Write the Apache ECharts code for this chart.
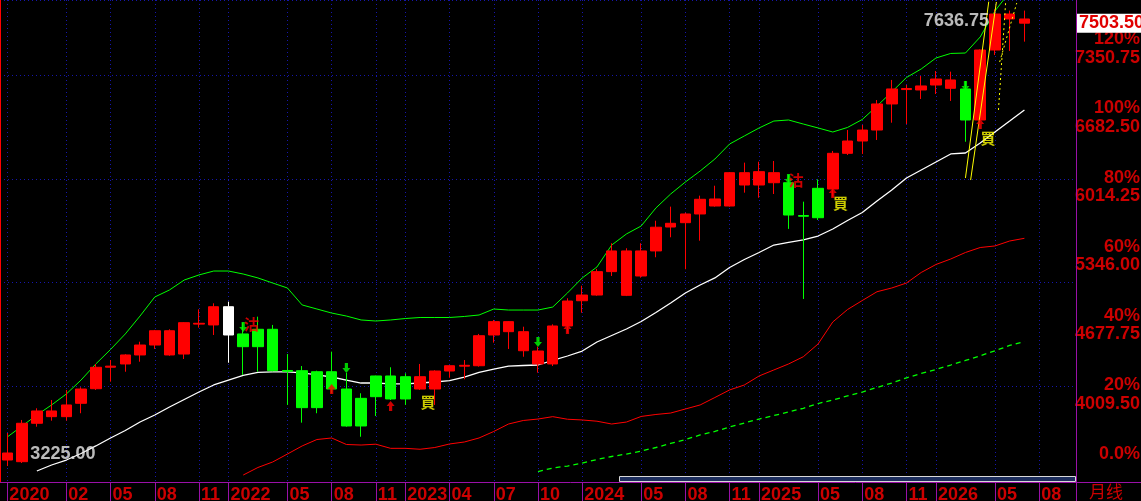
<!DOCTYPE html>
<html>
<head>
<meta charset="utf-8">
<script src="https://cdn.jsdelivr.net/npm/echarts@6/dist/echarts.min.js"></script>
<style>
html, body { margin: 0; padding: 0; background: #000; }
#chart { width: 1141px; height: 501px; }
</style>
</head>
<body>
<div id="chart"></div>
<script>
// Monthly bars, 2020-10 .. 2026-10 (last three slots empty)
const months = [];
for (let i = 0; i < 73; i++) {
    const m = 9 + i;
    months.push((2020 + Math.floor(m / 12)) + "-" + String(m % 12 + 1).padStart(2, "0"));
}

const tickMonths = ["2020-10", "2021-02", "2021-05", "2021-08", "2021-11", "2022-01", "2022-05", "2022-08",
    "2022-11", "2023-01", "2023-04", "2023-07", "2023-10", "2024-01", "2024-05", "2024-08", "2024-11",
    "2025-01", "2025-05", "2025-08", "2025-11", "2026-01", "2026-05", "2026-08"];

const opens = [3283, 3267, 3638, 3702, 3702, 3831, 3972, 4180, 4211, 4298, 4394, 4298, 4307, 4596, 4588, 4764,
    4501, 4546, 4546, 4148, 4146, 4136, 4136, 3969, 3879, 4095, 4095, 4088, 3969, 3969, 4143, 4190, 4194, 4491,
    4523, 4339, 4211, 4211, 4578, 4822, 4877, 5103, 4874, 5061, 5303, 5534, 5576, 5660, 5737, 5737, 5940, 5940,
    5962, 5962, 5645, 5908, 5901, 6246, 6365, 6471, 6723, 6862, 6858, 6906, 6874, 6868, 6568, 7244, 7544, 7544];
const closes = [3351, 3638, 3757, 3757, 3815, 3969, 4179, 4190, 4298, 4394, 4532, 4532, 4610, 4604, 4764, 4491,
    4378, 4378, 4146, 4140, 3789, 3789, 3969, 3612, 3612, 3895, 3873, 3873, 4088, 4143, 4194, 4198, 4484, 4620,
    4620, 4523, 4336, 4578, 4819, 4877, 5103, 5303, 5303, 5303, 5532, 5570, 5660, 5802, 5805, 6059, 6059, 6069,
    6059, 5650, 5638, 5624, 6246, 6365, 6471, 6723, 6868, 6872, 6897, 6964, 6955, 6568, 7244, 7592, 7592, 7503.5];
const lows = [3225, 3254, 3605, 3663, 3663, 3735, 3960, 4040, 4136, 4233, 4356, 4290, 4259, 4562, 4491, 4223,
    4105, 4136, 4140, 3815, 3644, 3735, 3928, 3605, 3508, 3708, 3863, 3815, 3960, 3815, 4078, 4063, 4185, 4417,
    4356, 4281, 4127, 4191, 4513, 4706, 4870, 5061, 4867, 5045, 5242, 5435, 5126, 5402, 5731, 5731, 5866, 5817,
    5853, 5516, 4839, 5602, 5827, 6230, 6240, 6375, 6542, 6529, 6771, 6819, 6752, 6358, 6520, 7196, 7235, 7325];
const highs = [3544, 3670, 3783, 3863, 3960, 3986, 4211, 4249, 4305, 4426, 4540, 4546, 4615, 4739, 4797, 4813,
    4610, 4668, 4588, 4307, 4191, 4146, 4330, 4124, 3928, 4098, 4179, 4121, 4211, 4150, 4200, 4249, 4501, 4636,
    4625, 4571, 4378, 4594, 4846, 4967, 5129, 5377, 5329, 5377, 5595, 5731, 5673, 5837, 5933, 6065, 6156, 6165,
    6172, 6037, 5779, 5995, 6269, 6471, 6520, 6761, 6955, 6906, 6993, 7041, 7035, 6945, 7250, 7636.75, 7625, 7625];

// Bollinger bands and long MA
const bollUpper = [3506, 3612, 3718, 3815, 3921, 4056, 4211, 4351, 4501, 4674, 4858, 4926, 5022, 5071, 5109, 5109,
    5080, 5042, 4993, 4945, 4781, 4742, 4703, 4674, 4636, 4626, 4636, 4650, 4660, 4660, 4660, 4670, 4684, 4742,
    4732, 4732, 4732, 4761, 4897, 5042, 5148, 5360, 5467, 5544, 5718, 5853, 5969, 6075, 6191, 6336, 6414, 6491,
    6558, 6568, 6529, 6491, 6452, 6496, 6573, 6703, 6839, 6979, 7061, 7167, 7211, 7215, 7370, 7621, 7805, 7969];
const bollMid = [null, null, 3177, 3235, 3283, 3346, 3419, 3496, 3568, 3650, 3718, 3795, 3868, 3940, 4008, 4056,
    4100, 4129, 4134, 4134, 4124, 4105, 4085, 4056, 4027, 4027, 4018, 4018, 4027, 4037, 4051, 4085, 4129, 4162,
    4191, 4196, 4201, 4245, 4288, 4336, 4423, 4486, 4549, 4621, 4708, 4800, 4897, 4974, 5042, 5143, 5220, 5288,
    5360, 5385, 5409, 5447, 5515, 5597, 5674, 5786, 5892, 6008, 6085, 6162, 6240, 6249, 6346, 6452, 6558, 6665];
const bollLower = [null, null, null, null, null, null, null, null, null, null, null, null, null, null, null, null,
    3138, 3211, 3264, 3341, 3419, 3481, 3496, 3433, 3428, 3436, 3396, 3396, 3387, 3404, 3438, 3457, 3496, 3559,
    3631, 3665, 3679, 3702, 3677, 3670, 3658, 3631, 3650, 3704, 3723, 3737, 3776, 3815, 3887, 3960, 4008, 4095,
    4153, 4211, 4281, 4404, 4617, 4737, 4824, 4909, 4945, 4993, 5095, 5172, 5225, 5288, 5336, 5351, 5399, 5425];
const maLong = [null, null, null, null, null, null, null, null, null, null, null, null, null, null, null, null,
    null, null, null, null, null, null, null, null, null, null, null, null, null, null, null, null, null, null,
    null, null, 3172, 3206, 3225, 3254, 3288, 3317, 3341, 3370, 3404, 3443, 3481, 3525, 3559, 3602, 3641, 3679,
    3713, 3747, 3783, 3829, 3863, 3902, 3940, 3984, 4027, 4077, 4119, 4158, 4201, 4245, 4290, 4338, 4390, 4428];

// Yellow trend lines [bar position, price]
const trendSolidA = [[65.0, 6008], [66.58, 7711]];
const trendSolidB = [[65.35, 5988], [67.1, 7708]];
const trendDotC = [[67.24, 6665], [67.73, 7711]];
const trendDotD = [[67.32, 7128], [68.48, 7698]];

// Signals [bar position, price]
const sellArrows = [[16, 4568], [23, 4172], [36, 4423], [53, 5998], [65, 6897]];
const buyArrows = [[22, 3969], [26, 3805], [38, 4549], [56, 5863], [66, 6529]];
const buyTexts = [[28.54, 3844], [56.52, 5761], [66.53, 6389]];
const sellTexts = [[16.56, 4592], [53.5, 5984]];

const basePrice = 3341.25;
const pctLevels = [0, 20, 40, 60, 80, 100, 120];
const lastPrice = 7503.5;
const lowPoint = [0, 3225];
const highPoint = [67, 7636.75];

const yMin = 3070.7;
const yMax = 7727.3;
const purple = "#9a10a8";
const axisRed = "#cc0000";
const gridBlue = "#1616ac";
const font = "'Liberation Sans', Arial, sans-serif";

const tickIdx = tickMonths.map(m => months.indexOf(m));
const tickText = {};
tickMonths.forEach((m, k) => {
    const mm = m.slice(5);
    tickText[tickIdx[k]] = (k === 0 || mm === "01") ? m.slice(0, 4) : mm;
});
const gridPrices = pctLevels.map(p => basePrice * (1 + p / 100));

const candleData = opens.map((o, i) => {
    const item = { value: [o, closes[i], lows[i], highs[i]] };
    if (i === 15) {
        item.itemStyle = { color: "#ffffff", color0: "#ffffff", borderColor: "#ffffff", borderColor0: "#ffffff" };
    }
    if (i === opens.length - 1) {
        item.itemStyle = { color0: "#ff0000", borderColor0: "#ff0000" };
    }
    return item;
});

const chart = echarts.init(document.getElementById("chart"));

const arrowPath = "path://M3,0 L7,0 L7,5 L10,5 L5,10 L0,5 L3,5 Z";

function trendSeries(data, dotted) {
    return {
        type: "line", xAxisIndex: 1, yAxisIndex: 0, data: data,
        showSymbol: false, silent: true, z: 6,
        lineStyle: { color: "#ffff00", width: 1, type: dotted ? [2, 3] : "solid" }
    };
}

function lineSeries(data, color, type, width) {
    return {
        type: "line", data: data, showSymbol: false, silent: true, z: 3,
        lineStyle: { color: color, width: width || 1, type: type || "solid" }
    };
}

const option = {
    backgroundColor: "#000",
    animation: false,
    grid: { left: 0, right: 65, top: 0, bottom: 19, containLabel: false, outerBoundsMode: "none" },
    xAxis: [
        {
            type: "category", data: months, boundaryGap: true,
            axisLine: { show: false }, axisTick: { show: false },
            axisLabel: { show: false }, splitLine: { show: false }
        },
        {
            type: "value", position: "bottom", min: -0.5, max: 72.5,
            axisLine: { show: false },
            axisTick: { show: true, customValues: tickIdx, length: 19, inside: false,
                lineStyle: { color: purple, width: 1 } },
            axisLabel: {
                customValues: tickIdx, formatter: v => tickText[v] || "",
                color: axisRed, fontFamily: font, fontWeight: "bold", fontSize: 18,
                align: "left", margin: 4, padding: [0, 0, 0, 2]
            },
            splitLine: { show: true, lineStyle: { color: gridBlue, width: 1, type: [1, 3] } }
        }
    ],
    yAxis: {
        type: "value", position: "right", min: yMin, max: yMax, scale: true,
        axisLine: { show: false }, axisTick: { show: false },
        splitLine: { show: true, lineStyle: { color: gridBlue, width: 1, type: [1, 3] } },
        axisLabel: {
            customValues: gridPrices,
            margin: 64, align: "right", padding: [19, 0, 0, 0],
            formatter: v => {
                const k = Math.round((v / basePrice - 1) * 100);
                if (k === 0) return "{p|0.0%}\n{v| }";
                return "{p|" + k + "%}\n{v|" + v.toFixed(2) + "}";
            },
            rich: {
                p: { color: axisRed, fontFamily: font, fontWeight: "bold", fontSize: 18, lineHeight: 18.5, align: "right" },
                v: { color: axisRed, fontFamily: font, fontWeight: "bold", fontSize: 18, lineHeight: 18.5, align: "right" }
            }
        }
    },
    series: [
        {
            type: "candlestick", data: candleData, barWidth: 11, z: 4,
            itemStyle: { color: "#ff0000", color0: "#00ff00", borderColor: "#ff0000", borderColor0: "#00ff00", borderWidth: 1 },
            markLine: {
                silent: true, symbol: "none",
                lineStyle: { color: "rgba(0,0,0,0)", width: 0 },
                label: {
                    show: true, position: "end", distance: 1, formatter: "7503.50",
                    color: "#e00000", backgroundColor: "#ffffff", padding: [1, 1, 0, 2],
                    fontFamily: font, fontWeight: "bold", fontSize: 18
                },
                data: [{ yAxis: lastPrice }]
            }
        },
        lineSeries(bollUpper, "#00ff00"),
        lineSeries(bollMid, "#ffffff", "solid", 1.3),
        lineSeries(bollLower, "#ff0000"),
        lineSeries(maLong, "#00ff00", [5, 4], 1.3),
        trendSeries(trendSolidA, false),
        trendSeries(trendSolidB, false),
        trendSeries(trendDotC, true),
        trendSeries(trendDotD, true),
        {
            type: "scatter", xAxisIndex: 1, data: sellArrows, symbol: arrowPath, symbolSize: [8, 10],
            itemStyle: { color: "#00ff00" }, silent: true, z: 7
        },
        {
            type: "scatter", xAxisIndex: 1, data: buyArrows, symbol: arrowPath, symbolSize: [8, 10],
            symbolRotate: 180, itemStyle: { color: "#ff0000" }, silent: true, z: 7
        },
        {
            type: "scatter", xAxisIndex: 1, data: buyTexts, symbolSize: 0, silent: true, z: 8,
            label: { show: true, position: "inside", formatter: "買", color: "#ffff00",
                fontFamily: "'Noto Sans CJK TC'", fontWeight: "bold", fontSize: 15 }
        },
        {
            type: "scatter", xAxisIndex: 1, data: sellTexts, symbolSize: 0, silent: true, z: 8,
            label: { show: true, position: "inside", formatter: "沽", color: "#ff0000",
                fontFamily: "'Noto Sans CJK TC'", fontWeight: "bold", fontSize: 15 }
        },
        {
            type: "scatter", xAxisIndex: 1, data: [lowPoint], symbolSize: 0, silent: true, z: 8,
            label: { show: true, position: "right", distance: 23, offset: [0, -12],
                formatter: p => p.value[1].toFixed(2), color: "#e8e8e8",
                fontFamily: font, fontWeight: "bold", fontSize: 18 }
        },
        {
            type: "scatter", xAxisIndex: 1, data: [highPoint], symbolSize: 0, silent: true, z: 8,
            label: { show: true, position: "left", distance: 6, offset: [0, 11.5],
                formatter: p => p.value[1].toFixed(2), color: "#e8e8e8",
                fontFamily: font, fontWeight: "bold", fontSize: 18 }
        }
    ],
    graphic: [
        { type: "line", shape: { x1: 0.5, y1: 0, x2: 0.5, y2: 482 }, style: { stroke: "#ff0000", lineWidth: 1 }, z: 10 },
        { type: "line", shape: { x1: 0, y1: 482.5, x2: 1141, y2: 482.5 }, style: { stroke: purple, lineWidth: 1 }, z: 10 },
        { type: "line", shape: { x1: 1076.5, y1: 0, x2: 1076.5, y2: 501 }, style: { stroke: purple, lineWidth: 1 }, z: 10 },
        { type: "rect", shape: { x: 619.5, y: 476.5, width: 456, height: 5 },
            style: { fill: "#1c2d5c", stroke: "#d8d8d8", lineWidth: 1 }, z: 10 },
        { type: "text", x: 1089, y: 483,
            style: { text: "月线", fill: axisRed, font: "17px 'Noto Sans CJK SC'" }, z: 10 }
    ]
};

chart.setOption(option);
</script>
</body>
</html>
